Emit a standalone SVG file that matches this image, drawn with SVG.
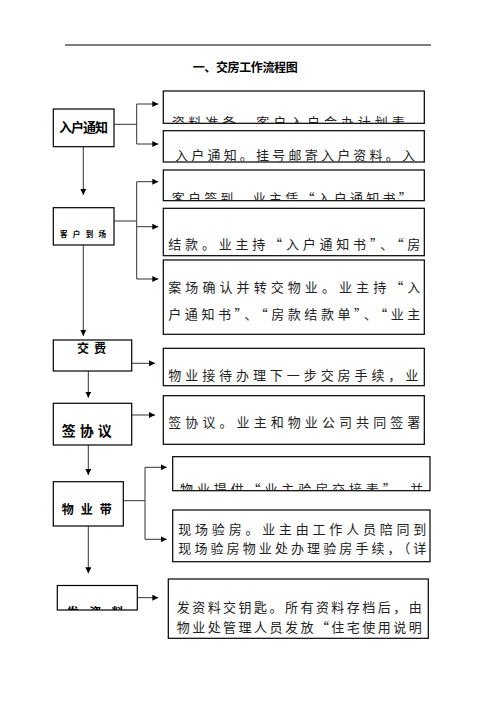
<svg xmlns="http://www.w3.org/2000/svg" width="496" height="702" viewBox="0 0 496 702">
<style>
.box{fill:#fff;stroke:#000;stroke-width:1.2}
.t{font-family:"Noto Sans CJK SC","Noto Sans",sans-serif;font-size:13px;fill:#222}
.b{font-family:"Noto Sans CJK SC","Noto Sans",sans-serif;font-weight:bold;fill:#000}
.c{fill:none;stroke:#333;stroke-width:1}
</style>
<defs>
<marker id="ah" markerUnits="userSpaceOnUse" markerWidth="7" markerHeight="6" refX="6" refY="3" orient="auto">
<path d="M0,0 L6,3 L0,6 z" fill="#000"/>
</marker>
<clipPath id="c1"><rect x="163" y="91" width="262" height="32"/></clipPath>
<clipPath id="c2"><rect x="163" y="130" width="262" height="31.5"/></clipPath>
<clipPath id="c3"><rect x="163" y="170" width="262" height="30.5"/></clipPath>
<clipPath id="c8"><rect x="172" y="456" width="258" height="34.5"/></clipPath>
<clipPath id="c6"><rect x="57" y="585" width="80" height="25"/></clipPath>
</defs>

<path d="M65 45 H431" stroke="#000" stroke-width="1"/>
<text class="b" x="192.7" y="72" font-size="12" textLength="105" lengthAdjust="spacing">一、交房工作流程图</text>

<g id="connectors">
<path class="c" d="M114 124.3 H136.7 M136.7 104 V144"/>
<path class="c" d="M136.7 104 H158.3" marker-end="url(#ah)"/>
<path class="c" d="M136.7 144 H158.3" marker-end="url(#ah)"/>
<path class="c" d="M83.3 146.7 V195" marker-end="url(#ah)"/>
<path class="c" d="M114 221 H136.7 M136.7 181.7 V279"/>
<path class="c" d="M136.7 181.7 H158.3" marker-end="url(#ah)"/>
<path class="c" d="M136.7 226.7 H158.3" marker-end="url(#ah)"/>
<path class="c" d="M136.7 279 H158.3" marker-end="url(#ah)"/>
<path class="c" d="M83.3 245 V336" marker-end="url(#ah)"/>
<path class="c" d="M131.7 363.3 H155" marker-end="url(#ah)"/>
<path class="c" d="M88.3 371 V397.7" marker-end="url(#ah)"/>
<path class="c" d="M131.7 415 H155" marker-end="url(#ah)"/>
<path class="c" d="M88.3 445 V475" marker-end="url(#ah)"/>
<path class="c" d="M123.3 500.7 H145 M145 467.3 V539.3"/>
<path class="c" d="M145 467.3 H166.7" marker-end="url(#ah)"/>
<path class="c" d="M145 539.3 H166.7" marker-end="url(#ah)"/>
<path class="c" d="M88.3 526 V573.3" marker-end="url(#ah)"/>
<path class="c" d="M137.3 597.7 H158.3" marker-end="url(#ah)"/>
</g>

<g id="n1">
<rect class="box" x="53.3" y="109" width="60.7" height="37.7"/>
<text class="b" x="59" y="132" font-size="13" textLength="49" lengthAdjust="spacing">入户通知</text>
</g>
<g id="n2">
<rect class="box" x="53.3" y="207.7" width="60.7" height="37.3"/>
<text class="b" x="60" y="237" font-size="7.5" textLength="46" lengthAdjust="spacing">客户到场</text>
</g>
<g id="n3">
<rect class="box" x="53.3" y="340" width="78.4" height="31"/>
<text class="b" x="77" y="352.5" font-size="12" textLength="29" lengthAdjust="spacing">交费</text>
</g>
<g id="n4">
<rect class="box" x="53.3" y="403.3" width="78.4" height="41.7"/>
<text class="b" x="61.7" y="436" font-size="14" textLength="50" lengthAdjust="spacing">签协议</text>
</g>
<g id="n5">
<rect class="box" x="53.3" y="481.7" width="70" height="44.3"/>
<text class="b" x="61.7" y="514" font-size="12" textLength="50" lengthAdjust="spacing">物业带</text>
</g>
<g id="n6">
<rect class="box" x="57.3" y="585.5" width="80" height="24.5"/>
<text class="b" x="66.7" y="617" font-size="12" textLength="57" lengthAdjust="spacing" clip-path="url(#c6)">发资料</text>
</g>

<g id="b1">
<rect class="box" x="163.3" y="91" width="261" height="32.3"/>
<text class="t" x="171.7" y="127" textLength="233" lengthAdjust="spacing" clip-path="url(#c1)">资料准备。客户入户会办计划表</text>
</g>
<g id="b2">
<rect class="box" x="163.3" y="130.7" width="261" height="31.3"/>
<text class="t" x="175" y="160" textLength="240" lengthAdjust="spacing" clip-path="url(#c2)">入户通知。挂号邮寄入户资料。入</text>
</g>
<g id="b3">
<rect class="box" x="163.3" y="170" width="261" height="30.7"/>
<text class="t" x="171.7" y="203" textLength="240" lengthAdjust="spacing" clip-path="url(#c3)">客户签到，业主凭“入户通知书”</text>
</g>
<g id="b4">
<rect class="box" x="163.3" y="208.3" width="261" height="47.4"/>
<text class="t" x="168.3" y="249" textLength="252" lengthAdjust="spacing">结款。业主持“入户通知书”、“房</text>
</g>
<g id="b5">
<rect class="box" x="163.3" y="260" width="261" height="74.3"/>
<text class="t" x="168.3" y="292" textLength="252" lengthAdjust="spacing">案场确认并转交物业。业主持“入</text>
<text class="t" x="168.3" y="319" textLength="252" lengthAdjust="spacing">户通知书”、“房款结款单”、“业主</text>
</g>
<g id="b6">
<rect class="box" x="163.3" y="348.3" width="261" height="37.4"/>
<text class="t" x="168.3" y="380" textLength="250" lengthAdjust="spacing">物业接待办理下一步交房手续，业</text>
</g>
<g id="b7">
<rect class="box" x="163.3" y="395.7" width="261" height="48.6"/>
<text class="t" x="168.3" y="426.7" textLength="252" lengthAdjust="spacing">签协议。业主和物业公司共同签署</text>
</g>
<g id="b8">
<rect class="box" x="172.7" y="456.7" width="257.3" height="34"/>
<text class="t" x="180" y="494" textLength="243" lengthAdjust="spacing" clip-path="url(#c8)">物业提供“业主验房交接表”，并</text>
</g>
<g id="b9">
<rect class="box" x="172.7" y="510" width="257.3" height="51.7"/>
<text class="t" x="178.3" y="534" font-size="11" textLength="248" lengthAdjust="spacing">现场验房。业主由工作人员陪同到</text>
<text class="t" x="178.3" y="553" font-size="11" textLength="248" lengthAdjust="spacing">现场验房物业处办理验房手续，（详</text>
</g>
<g id="b10">
<rect class="box" x="168.3" y="579" width="260" height="59.3"/>
<text class="t" x="176.7" y="611.7" textLength="245" lengthAdjust="spacing">发资料交钥匙。所有资料存档后，由</text>
<text class="t" x="176.7" y="631.7" textLength="245" lengthAdjust="spacing">物业处管理人员发放“住宅使用说明</text>
</g>
</svg>
